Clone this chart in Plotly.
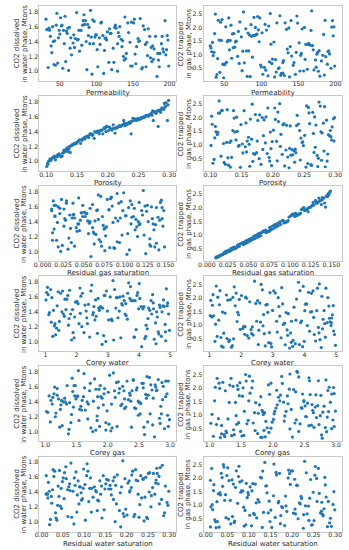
import plotly.graph_objects as go

# ---------------- data (one entry per simulation sample) ----------------
permeability = [
    34, 152, 98, 187, 61, 123, 45, 176, 109, 73,
    141, 56, 194, 87, 130, 38, 166, 102, 69, 181,
    117, 49, 158, 83, 199, 132, 64, 171, 94, 41,
    148, 77, 113, 185, 52, 136, 91, 162, 31, 105,
    173, 66, 127, 42, 190, 85, 155, 119, 58, 143,
    96, 36, 168, 74, 139, 111, 197, 47, 126, 80,
    183, 59, 104, 151, 39, 93, 178, 125, 70, 160,
    44, 134, 88, 196, 115, 54, 146, 79, 170, 100,
    63, 189, 121, 33, 157, 97, 140, 68, 179, 107,
    147, 50, 86, 164, 129, 37, 192, 76, 114, 55,
    174, 92, 135, 60, 186, 118, 43, 153, 82, 129,
    71, 163, 40, 101, 144, 198, 57, 124, 89, 177,
    35, 110, 169, 81, 137, 48, 191, 95, 154, 65,
    120, 184, 53, 149, 75, 106, 167, 32, 138, 90,
    159, 46, 195, 99, 62, 131, 84, 175, 112, 51,
]
porosity = [
    0.112, 0.287, 0.203, 0.156, 0.241, 0.178, 0.264, 0.131, 0.219, 0.295,
    0.145, 0.192, 0.273, 0.108, 0.234, 0.167, 0.251, 0.124, 0.209, 0.282,
    0.139, 0.226, 0.183, 0.298, 0.117, 0.258, 0.161, 0.244, 0.103, 0.197,
    0.276, 0.152, 0.213, 0.129, 0.267, 0.188, 0.238, 0.106, 0.291, 0.172,
    0.221, 0.143, 0.256, 0.119, 0.199, 0.284, 0.164, 0.231, 0.136, 0.271,
    0.186, 0.247, 0.114, 0.207, 0.293, 0.158, 0.228, 0.127, 0.262, 0.175,
    0.101, 0.239, 0.194, 0.279, 0.148, 0.216, 0.133, 0.254, 0.169, 0.289,
    0.122, 0.204, 0.268, 0.154, 0.236, 0.109, 0.181, 0.297, 0.141, 0.224,
    0.259, 0.171, 0.115, 0.248, 0.195, 0.277, 0.137, 0.212, 0.163, 0.286,
    0.126, 0.232, 0.179, 0.265, 0.104, 0.218, 0.151, 0.274, 0.191, 0.243,
    0.134, 0.299, 0.166, 0.227, 0.118, 0.253, 0.201, 0.146, 0.281, 0.174,
    0.208, 0.111, 0.261, 0.157, 0.237, 0.189, 0.294, 0.128, 0.222, 0.168,
    0.249, 0.102, 0.185, 0.272, 0.138, 0.215, 0.159, 0.283, 0.121, 0.196,
    0.235, 0.149, 0.266, 0.113, 0.206, 0.278, 0.176, 0.245, 0.132, 0.257,
    0.184, 0.292, 0.142, 0.229, 0.107, 0.198, 0.269, 0.162, 0.211, 0.288,
]
residual_gas_saturation = [
    0.087, 0.023, 0.141, 0.056, 0.112, 0.034, 0.128, 0.071, 0.015, 0.099,
    0.063, 0.135, 0.029, 0.106, 0.047, 0.147, 0.081, 0.019, 0.122, 0.052,
    0.094, 0.011, 0.117, 0.068, 0.039, 0.133, 0.076, 0.026, 0.103, 0.058,
    0.144, 0.042, 0.089, 0.017, 0.125, 0.064, 0.108, 0.031, 0.079, 0.138,
    0.049, 0.097, 0.021, 0.131, 0.073, 0.013, 0.115, 0.054, 0.091, 0.037,
    0.119, 0.066, 0.149, 0.028, 0.084, 0.045, 0.101, 0.139, 0.016, 0.074,
    0.059, 0.127, 0.036, 0.093, 0.012, 0.109, 0.069, 0.146, 0.041, 0.083,
    0.024, 0.114, 0.061, 0.136, 0.051, 0.088, 0.018, 0.121, 0.077, 0.033,
    0.105, 0.044, 0.142, 0.067, 0.027, 0.096, 0.131, 0.057, 0.014, 0.118,
    0.072, 0.038, 0.129, 0.085, 0.022, 0.111, 0.062, 0.148, 0.046, 0.098,
    0.032, 0.123, 0.078, 0.053, 0.137, 0.011, 0.092, 0.065, 0.107, 0.043,
    0.134, 0.082, 0.019, 0.113, 0.048, 0.143, 0.071, 0.035, 0.102, 0.026,
    0.058, 0.126, 0.086, 0.014, 0.116, 0.039, 0.075, 0.145, 0.063, 0.095,
    0.021, 0.104, 0.049, 0.132, 0.068, 0.029, 0.118, 0.081, 0.012, 0.139,
    0.055, 0.091, 0.124, 0.037, 0.076, 0.015, 0.109, 0.061, 0.146, 0.044,
]
corey_water = [
    3.42, 1.17, 4.68, 2.35, 4.03, 1.76, 2.91, 4.85, 1.38, 3.67,
    2.08, 4.41, 1.55, 3.19, 4.92, 2.63, 1.02, 3.84, 2.27, 4.16,
    1.89, 3.53, 4.74, 2.49, 1.24, 3.08, 4.29, 1.63, 2.82, 4.57,
    3.96, 1.45, 2.71, 4.98, 2.14, 3.37, 1.81, 4.49, 3.22, 1.11,
    2.56, 4.23, 3.71, 1.33, 4.81, 2.96, 1.94, 3.45, 4.62, 2.19,
    1.58, 3.88, 2.42, 4.35, 1.07, 3.14, 4.77, 2.67, 1.72, 3.59,
    4.09, 2.01, 3.26, 1.49, 4.53, 2.78, 3.91, 1.21, 2.33, 4.88,
    2.87, 1.66, 4.44, 3.03, 1.97, 4.19, 2.54, 3.75, 1.29, 4.66,
    3.31, 4.95, 1.84, 2.61, 3.99, 1.41, 4.27, 2.12, 3.63, 1.04,
    4.72, 2.38, 1.53, 3.49, 2.94, 4.07, 1.19, 3.81, 2.73, 4.39,
    1.36, 3.17, 4.59, 2.05, 3.86, 1.69, 2.99, 4.84, 2.46, 3.56,
    4.13, 1.92, 3.39, 2.59, 4.46, 1.26, 3.73, 2.24, 4.91, 1.61,
    2.69, 4.55, 1.13, 3.94, 2.17, 4.31, 3.12, 1.78, 4.64, 2.84,
    3.58, 1.31, 2.89, 4.22, 1.87, 3.64, 2.52, 4.79, 1.43, 3.28,
    2.31, 4.01, 1.74, 3.47, 4.86, 2.76, 1.09, 3.33, 4.47, 2.11,
]
corey_gas = [
    1.73, 2.41, 1.12, 2.86, 1.95, 2.27, 1.48, 2.64, 1.06, 2.09,
    2.52, 1.34, 2.93, 1.81, 2.18, 1.57, 2.71, 1.23, 2.36, 1.89,
    1.41, 2.78, 1.67, 2.03, 2.97, 1.15, 2.45, 1.86, 2.59, 1.29,
    2.14, 1.02, 2.62, 1.54, 2.89, 1.77, 2.23, 1.38, 2.81, 1.93,
    1.61, 2.49, 1.19, 2.72, 1.84, 2.31, 1.45, 2.95, 1.08, 2.57,
    2.06, 1.71, 2.38, 1.26, 2.67, 1.99, 1.52, 2.84, 1.35, 2.21,
    2.75, 1.44, 1.91, 2.55, 1.17, 2.12, 2.99, 1.63, 2.43, 1.79,
    1.27, 2.33, 2.69, 1.58, 2.01, 2.91, 1.39, 2.26, 1.83, 2.65,
    2.47, 1.11, 1.97, 2.79, 1.49, 2.17, 1.68, 2.53, 1.24, 2.87,
    1.87, 2.61, 1.32, 2.24, 1.76, 2.93, 1.04, 2.39, 1.59, 2.11,
    2.83, 1.53, 2.29, 1.14, 2.58, 1.81, 2.49, 1.42, 2.97, 1.69,
    1.21, 2.07, 2.77, 1.64, 2.35, 1.09, 2.63, 1.97, 1.47, 2.85,
    2.19, 1.37, 2.51, 1.88, 1.16, 2.73, 1.55, 2.41, 2.02, 1.31,
    1.94, 2.68, 1.46, 2.15, 2.88, 1.72, 1.25, 2.46, 1.83, 2.57,
    2.37, 1.62, 2.96, 1.19, 2.05, 1.51, 2.76, 1.85, 2.27, 1.43,
]
residual_water_saturation = [
    0.142, 0.027, 0.261, 0.088, 0.196, 0.053, 0.233, 0.117, 0.291, 0.069,
    0.176, 0.014, 0.214, 0.103, 0.268, 0.041, 0.157, 0.247, 0.079, 0.188,
    0.033, 0.226, 0.129, 0.284, 0.062, 0.171, 0.096, 0.239, 0.019, 0.207,
    0.254, 0.111, 0.046, 0.183, 0.276, 0.074, 0.139, 0.021, 0.221, 0.164,
    0.091, 0.297, 0.058, 0.201, 0.124, 0.031, 0.243, 0.151, 0.083, 0.272,
    0.011, 0.168, 0.229, 0.067, 0.279, 0.134, 0.039, 0.192, 0.106, 0.258,
    0.186, 0.049, 0.118, 0.263, 0.024, 0.211, 0.147, 0.077, 0.235, 0.099,
    0.287, 0.061, 0.178, 0.132, 0.016, 0.249, 0.093, 0.206, 0.044, 0.161,
    0.115, 0.227, 0.036, 0.269, 0.149, 0.081, 0.198, 0.012, 0.282, 0.054,
    0.217, 0.102, 0.253, 0.029, 0.173, 0.064, 0.295, 0.137, 0.208, 0.086,
    0.047, 0.191, 0.121, 0.274, 0.071, 0.153, 0.018, 0.231, 0.109, 0.266,
    0.163, 0.034, 0.245, 0.094, 0.203, 0.127, 0.057, 0.289, 0.141, 0.023,
    0.238, 0.076, 0.185, 0.011, 0.257, 0.113, 0.169, 0.042, 0.219, 0.098,
    0.066, 0.277, 0.145, 0.194, 0.026, 0.251, 0.084, 0.222, 0.131, 0.051,
    0.299, 0.107, 0.038, 0.174, 0.241, 0.089, 0.212, 0.015, 0.158, 0.271,
]
co2_dissolved = [
    1.05, 1.70, 1.46, 1.24, 1.58, 1.31, 1.62, 1.13, 1.48, 1.79,
    1.24, 1.37, 1.68, 1.02, 1.52, 1.34, 1.56, 1.06, 1.49, 1.47,
    1.12, 1.55, 1.40, 1.76, 1.07, 1.60, 1.31, 1.57, 0.96, 1.40,
    1.66, 1.27, 1.45, 1.15, 1.61, 1.41, 1.37, 1.03, 1.70, 1.36,
    1.47, 1.22, 1.58, 1.09, 1.47, 1.68, 1.33, 1.51, 1.13, 1.65,
    1.37, 1.55, 1.06, 1.42, 1.73, 1.28, 1.48, 1.11, 1.62, 1.35,
    0.93, 1.54, 1.45, 1.65, 1.25, 1.46, 1.16, 1.59, 1.32, 1.71,
    1.08, 1.43, 1.63, 1.29, 1.53, 1.04, 1.39, 1.55, 1.21, 1.49,
    1.59, 1.37, 1.02, 1.56, 1.44, 1.67, 1.17, 1.38, 1.30, 1.66,
    1.07, 1.50, 1.40, 1.61, 1.00, 1.47, 1.26, 1.55, 1.42, 1.55,
    1.18, 1.82, 1.33, 1.51, 1.06, 1.57, 1.41, 1.23, 1.68, 1.37,
    1.44, 1.05, 1.60, 1.29, 1.52, 1.42, 1.74, 1.12, 1.48, 1.34,
    1.58, 0.97, 1.39, 1.62, 1.20, 1.45, 1.30, 1.69, 1.10, 1.45,
    1.51, 1.24, 1.62, 1.07, 1.43, 1.65, 1.36, 1.56, 1.15, 1.59,
    1.41, 1.78, 1.22, 1.49, 1.01, 1.47, 1.63, 1.32, 1.44, 1.72,
]
co2_trapped = [
    1.46, 0.40, 2.36, 0.93, 1.77, 0.49, 2.20, 1.09, 0.22, 1.66,
    0.95, 2.36, 0.50, 1.68, 0.78, 2.50, 1.35, 0.28, 1.86, 0.77,
    1.47, 0.15, 2.01, 1.14, 0.58, 2.18, 1.28, 0.44, 1.76, 0.86,
    2.43, 0.70, 1.39, 0.25, 2.03, 1.07, 1.71, 0.46, 1.33, 2.12,
    0.81, 1.50, 0.31, 2.27, 1.12, 0.19, 1.95, 0.82, 1.53, 0.61,
    1.92, 1.09, 2.62, 0.41, 1.30, 0.74, 1.70, 2.30, 0.24, 1.14,
    0.98, 2.09, 0.53, 1.44, 0.17, 1.74, 1.15, 2.44, 0.68, 1.38,
    0.35, 1.94, 0.91, 2.26, 0.84, 1.48, 0.28, 1.96, 1.18, 0.55,
    1.78, 0.65, 2.18, 1.11, 0.40, 1.48, 2.26, 0.94, 0.21, 1.91,
    1.09, 0.63, 2.11, 1.42, 0.32, 1.78, 1.03, 2.58, 0.68, 1.53,
    0.54, 2.01, 1.21, 0.87, 2.27, 0.18, 1.54, 0.98, 1.80, 0.71,
    2.21, 1.38, 0.27, 1.81, 0.71, 2.03, 1.18, 0.52, 1.72, 0.39,
    0.97, 2.06, 1.34, 0.20, 1.99, 0.65, 1.14, 2.41, 1.05, 1.47,
    0.36, 1.75, 0.72, 2.17, 1.13, 0.43, 1.90, 1.25, 0.18, 2.38,
    0.83, 1.53, 2.02, 0.62, 1.26, 0.23, 1.73, 1.02, 2.52, 0.66,
]

param_names = ["Permeability", "Porosity", "Residual gas saturation",
               "Corey water", "Corey gas", "Residual water saturation"]
param_values = [permeability, porosity, residual_gas_saturation,
                corey_water, corey_gas, residual_water_saturation]
param_ranges = [[22, 209], [0.089, 0.311], [-0.004, 0.163],
                [0.81, 5.19], [0.905, 3.095], [-0.005, 0.316]]
param_ticks = [
    ([50, 100, 150, 200], ["50", "100", "150", "200"]),
    ([0.10, 0.15, 0.20, 0.25, 0.30], ["0.10", "0.15", "0.20", "0.25", "0.30"]),
    ([0, 0.025, 0.05, 0.075, 0.1, 0.125, 0.15],
     ["0.000", "0.025", "0.050", "0.075", "0.100", "0.125", "0.150"]),
    ([1, 2, 3, 4, 5], ["1", "2", "3", "4", "5"]),
    ([1.0, 1.5, 2.0, 2.5, 3.0], ["1.0", "1.5", "2.0", "2.5", "3.0"]),
    ([0, 0.05, 0.1, 0.15, 0.2, 0.25, 0.3],
     ["0.00", "0.05", "0.10", "0.15", "0.20", "0.25", "0.30"]),
]
outputs = [co2_dissolved, co2_trapped]
output_titles = [("CO2 dissolved", "in water phase, Mtons"),
                 ("CO2 trapped", "in gas phase, Mtons")]
output_ranges = [[0.868, 1.878], [0.03, 2.80]]
output_ticks = [
    ([1.0, 1.2, 1.4, 1.6, 1.8], ["1.0", "1.2", "1.4", "1.6", "1.8"]),
    ([0.5, 1.0, 1.5, 2.0, 2.5], ["0.5", "1.0", "1.5", "2.0", "2.5"]),
]

# ---------------- layout geometry (pixels) ----------------
W, H = 349, 550
col_x = [(34, 173), (201, 342)]
row_top0, row_pitch, row_h = 6, 90.1, 75
ytitle_x = [(11, 18.5), (178, 185.5)]

FONT = "DejaVu Sans"
TXT = "#262626"

fig = go.Figure()
layout = dict(
    width=W, height=H, margin=dict(l=0, r=0, t=0, b=0),
    paper_bgcolor="white", plot_bgcolor="white", showlegend=False,
    font=dict(family=FONT, size=7, color=TXT),
)
annotations = []

k = 0
for r in range(6):
    top = row_top0 + r * row_pitch
    bot = top + row_h
    for c in range(2):
        k += 1
        xa = "x" if k == 1 else f"x{k}"
        ya = "y" if k == 1 else f"y{k}"
        fig.add_trace(go.Scatter(
            x=param_values[r], y=outputs[c], mode="markers",
            marker=dict(size=3.2, color="#1f77b4", line=dict(width=0)),
            xaxis=xa, yaxis=ya, hoverinfo="skip",
        ))
        x0, x1 = col_x[c]
        axis_common = dict(showgrid=False, zeroline=False, showline=True,
                           mirror=True, linecolor="#c8c8c8", linewidth=1,
                           ticks="", tickangle=0,
                           tickfont=dict(family=FONT, size=6.2, color=TXT))
        layout["xaxis" if k == 1 else f"xaxis{k}"] = dict(
            axis_common, domain=[x0 / W, x1 / W], anchor=ya,
            range=param_ranges[r], tickvals=param_ticks[r][0],
            ticktext=param_ticks[r][1], ticklabelstandoff=-3)
        layout["yaxis" if k == 1 else f"yaxis{k}"] = dict(
            axis_common, domain=[1 - bot / H, 1 - top / H], anchor=xa,
            range=output_ranges[c], tickvals=output_ticks[c][0],
            ticktext=output_ticks[c][1], ticklabelstandoff=-1)
        annotations.append(dict(
            text=param_names[r], xref="paper", yref="paper",
            x=(x0 + x1) / 2 / W, y=1 - (bot + 12) / H,
            xanchor="center", yanchor="middle", showarrow=False,
            font=dict(family=FONT, size=7, color=TXT)))
        for li, txt in enumerate(output_titles[c]):
            annotations.append(dict(
                text=txt, xref="paper", yref="paper",
                x=ytitle_x[c][li] / W, y=1 - (top + bot) / 2 / H,
                xanchor="center", yanchor="middle", textangle=-90,
                showarrow=False, font=dict(family=FONT, size=7, color=TXT)))

layout["annotations"] = annotations
fig.update_layout(**layout)
fig.write_html("out.html",
               config={"displayModeBar": False},
               post_script="document.body.style.margin='0';"
                           "document.body.style.padding='0';")
